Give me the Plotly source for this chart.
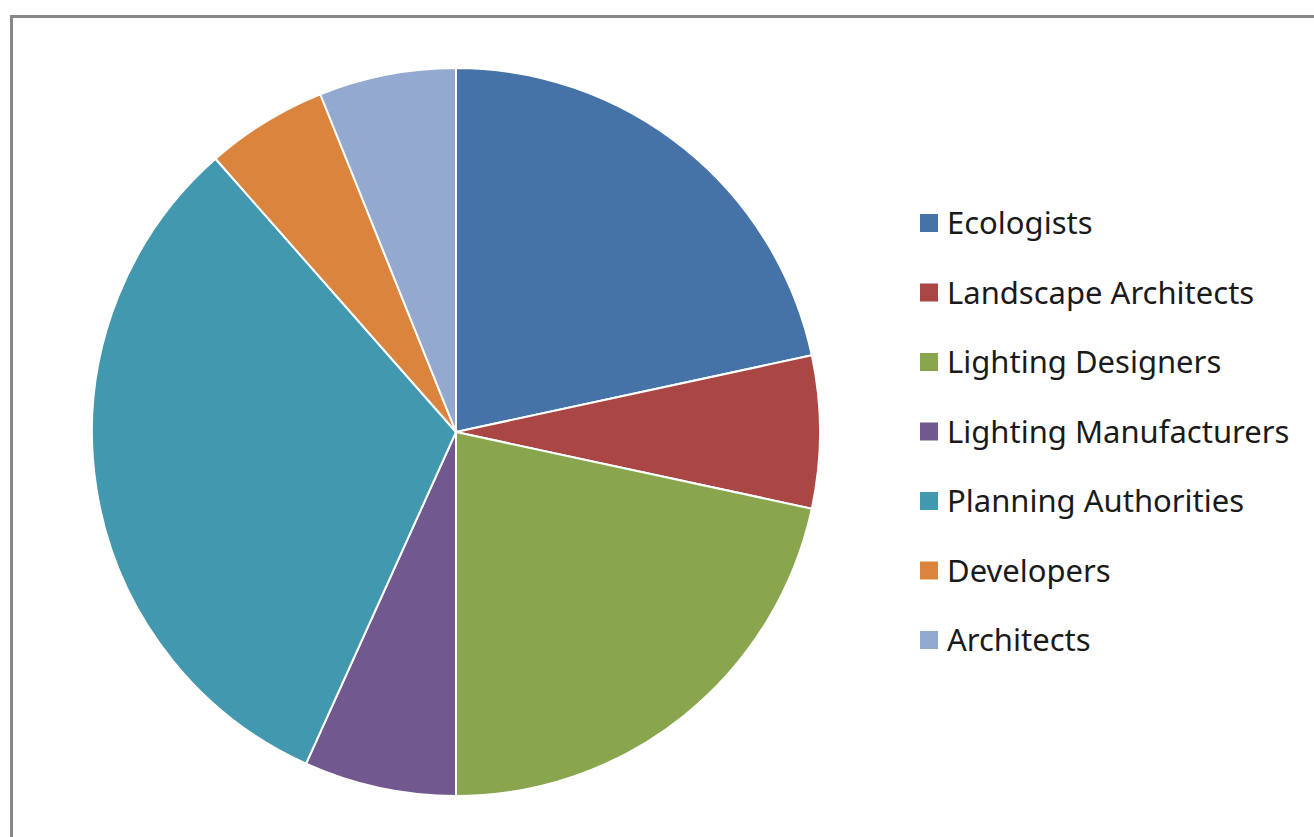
import plotly.graph_objects as go

categories = ["Ecologists", "Landscape Architects", "Lighting Designers",
              "Lighting Manufacturers", "Planning Authorities", "Developers", "Architects"]
values = [32, 10, 32, 10, 47, 8, 9]
colors = ["#4572A7", "#AA4643", "#89A54E", "#71588F", "#4198AF", "#DB843D", "#93A9CF"]

W, H = 1314, 837
cx, cy, r = 456, 432, 364

fig = go.Figure(go.Pie(
    labels=categories, values=values, sort=False, direction="clockwise", rotation=0,
    marker=dict(colors=colors, line=dict(color="white", width=2)),
    textinfo="none", hoverinfo="label+value+percent", showlegend=False,
    domain=dict(x=[(cx - r) / W, (cx + r) / W], y=[1 - (cy + r) / H, 1 - (cy - r) / H]),
))

shapes = [dict(type="rect", xref="paper", yref="paper",
               x0=11.5 / W, x1=1.02, y0=-0.02, y1=1 - 16.5 / H,
               line=dict(color="#888888", width=3), fillcolor="rgba(0,0,0,0)")]
annotations = []
y0, step = 223, 69.5
for i, (cat, col) in enumerate(zip(categories, colors)):
    yc = y0 + i * step
    shapes.append(dict(type="rect", xref="paper", yref="paper",
                       x0=920 / W, x1=938 / W, y0=1 - (yc + 9) / H, y1=1 - (yc - 9) / H,
                       line=dict(width=0), fillcolor=col))
    annotations.append(dict(xref="paper", yref="paper", x=945 / W, y=1 - (yc - 1) / H,
                            xanchor="left", yanchor="middle", showarrow=False,
                            text=cat, font=dict(family="Noto Sans", size=31, color="#1a1a1a")))

fig.update_layout(width=W, height=H, margin=dict(l=0, r=0, t=0, b=0),
                  paper_bgcolor="white", plot_bgcolor="white",
                  shapes=shapes, annotations=annotations)
fig.write_html("out.html")
